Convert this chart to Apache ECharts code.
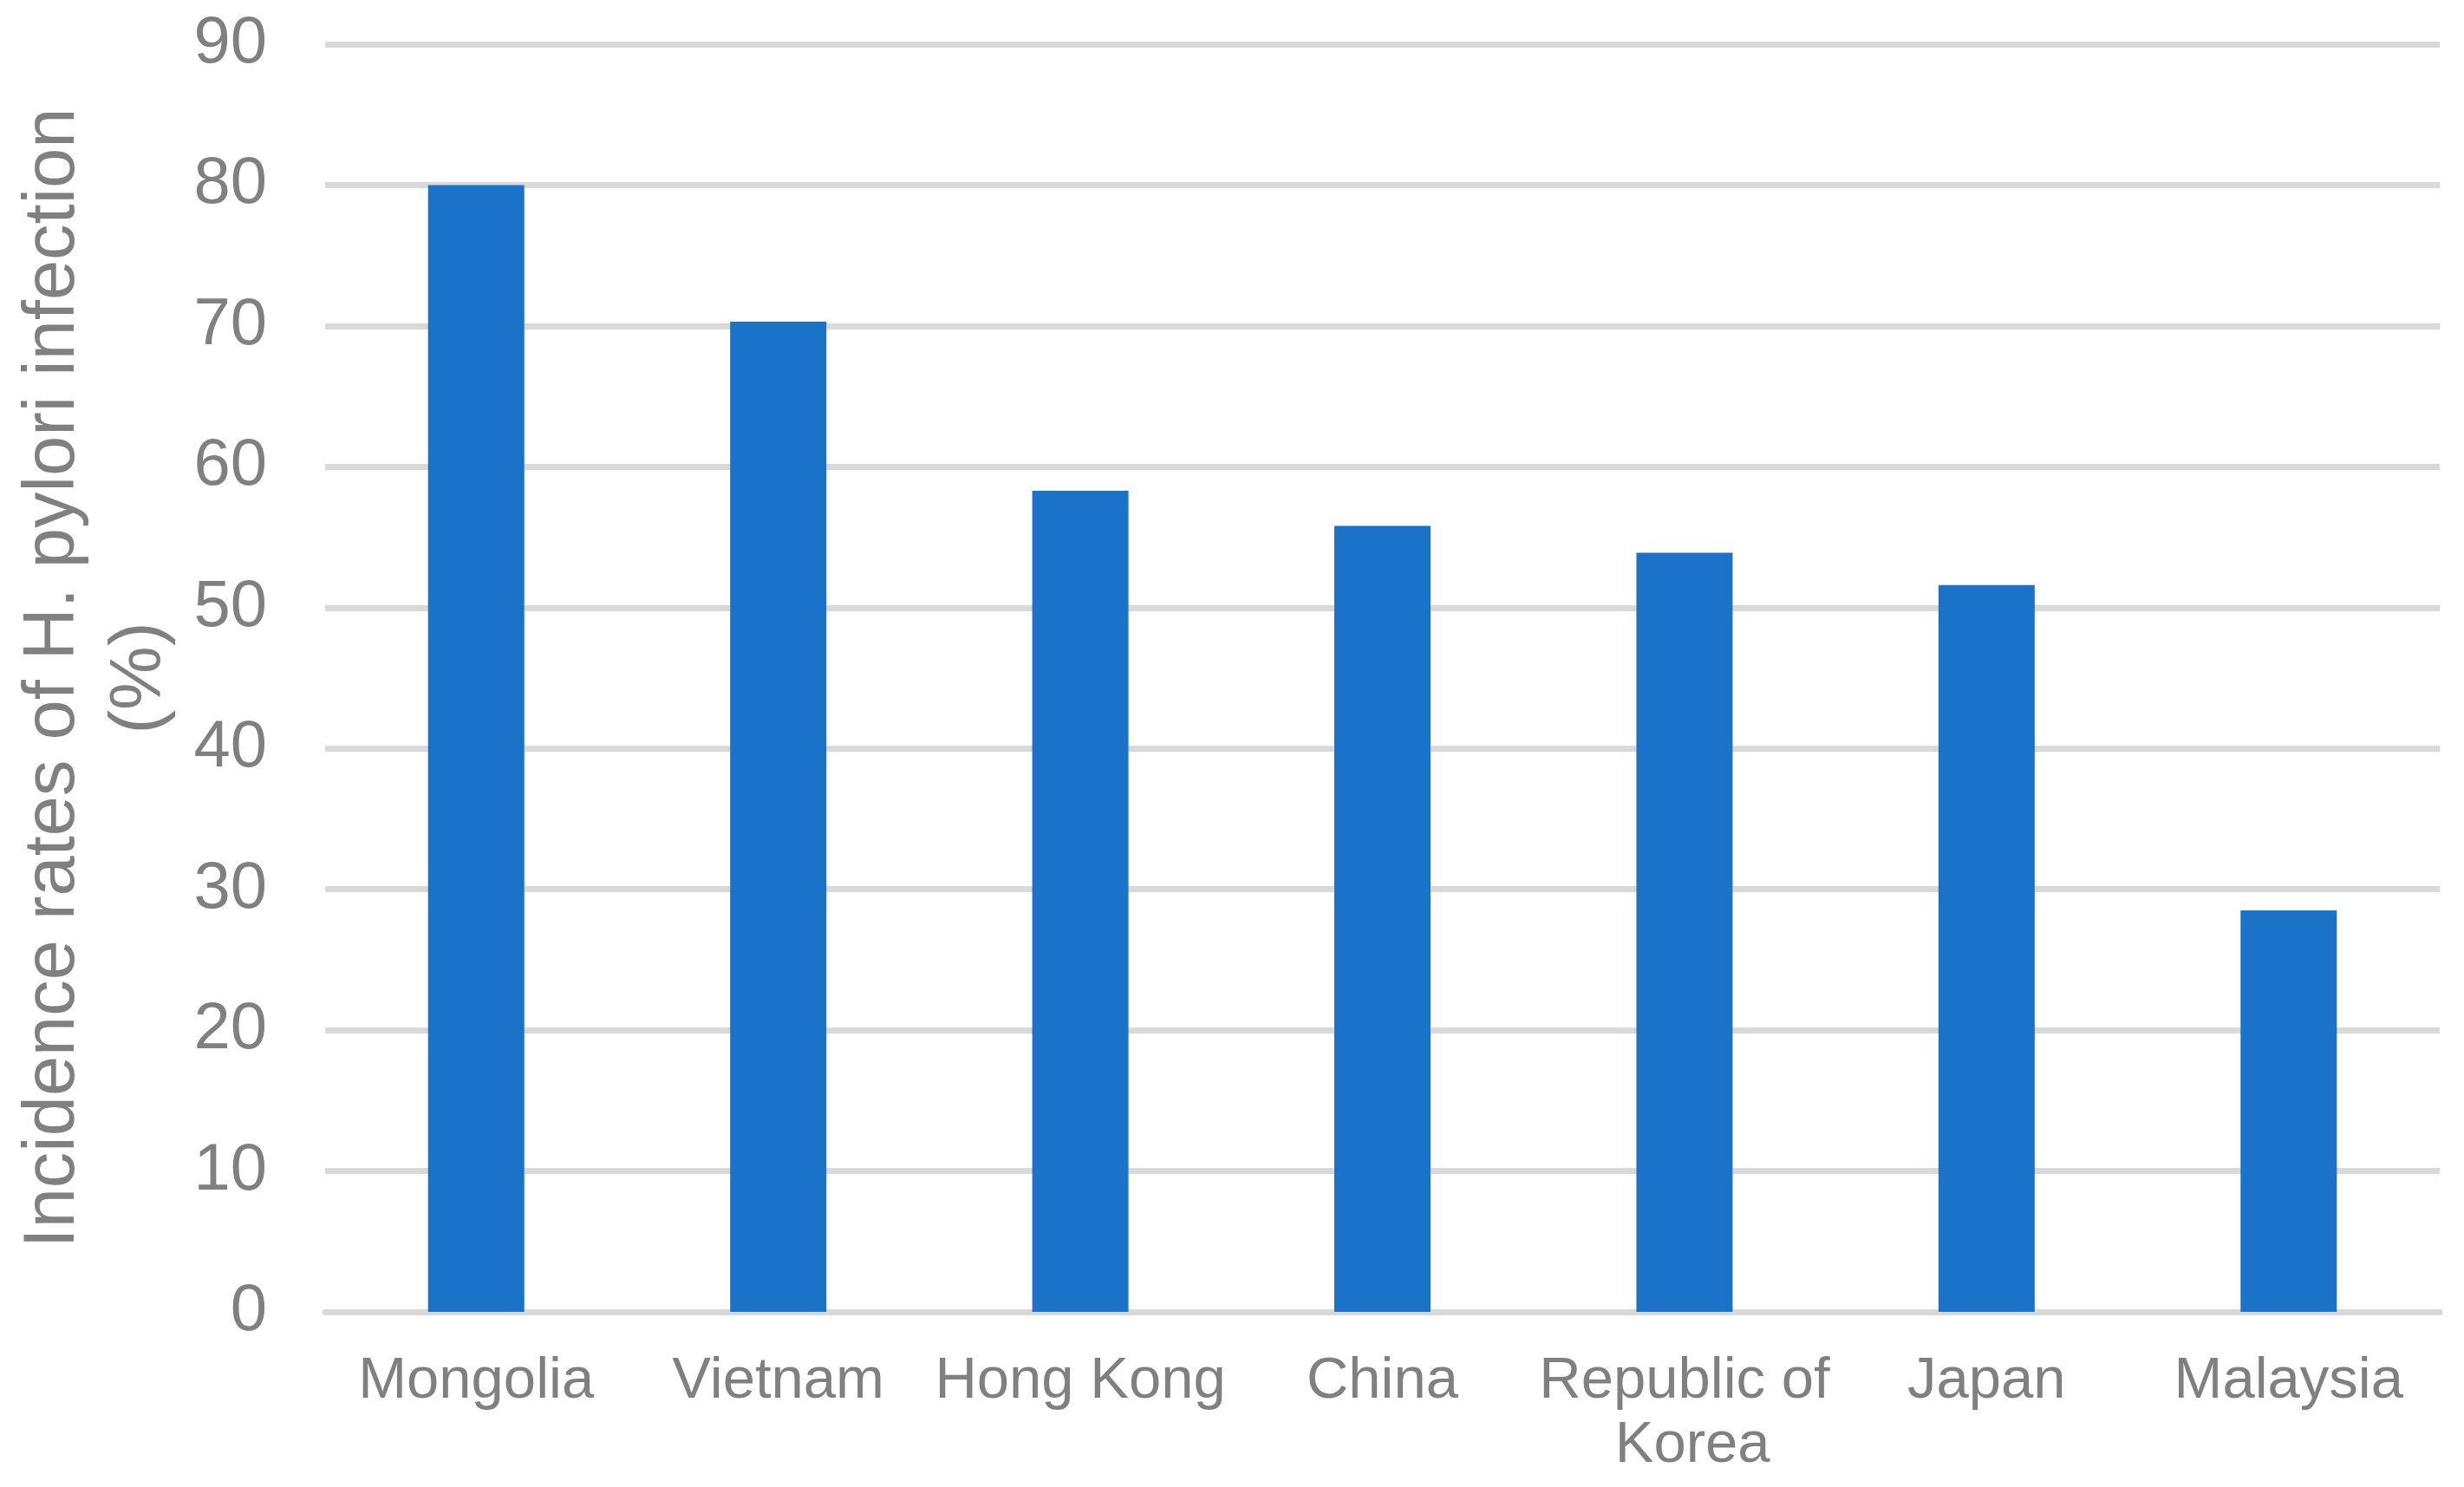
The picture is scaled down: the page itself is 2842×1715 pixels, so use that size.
<!DOCTYPE html>
<html>
<head>
<meta charset="utf-8">
<script src="https://cdn.jsdelivr.net/npm/echarts@6/dist/echarts.min.js"></script>
<style>
  html, body { margin:0; padding:0; background:#fff; }
  #chart { width:2842px; height:1715px; }
</style>
</head>
<body>
<div id="chart"></div>
<script>
const countries = ['Mongolia', 'Vietnam', 'Hong Kong', 'China', 'Republic of Korea', 'Japan', 'Malaysia'];
const rates = [80.0, 70.3, 58.3, 55.8, 53.9, 51.6, 28.5];
const yTicks = { min: 0, max: 90, step: 10 };
const yTitle = 'Incidence rates of H. pylori infection\n(%)';

const FONT = '"Liberation Sans", Arial, sans-serif';
const GREY = '#808080';
const GRID = '#D9D9D9';

const chart = echarts.init(document.getElementById('chart'));
chart.setOption({
  backgroundColor: '#fff',
  animation: false,
  grid: { left: 375, right: 28, top: 51, bottom: 202, outerBoundsMode: 'none', containLabel: false },
  xAxis: {
    type: 'category',
    data: countries,
    axisTick: { show: false },
    axisLine: { lineStyle: { color: GRID, width: 7 } },
    axisLabel: {
      color: GREY, fontFamily: FONT, fontSize: 67, margin: 44,
      lineHeight: 74, width: 345, overflow: 'break', interval: 0
    }
  },
  yAxis: {
    type: 'value',
    min: yTicks.min, max: yTicks.max, interval: yTicks.step,
    name: yTitle,
    nameLocation: 'middle',
    nameRotate: 90,
    nameGap: 163,
    nameTextStyle: { color: GREY, fontFamily: FONT, fontSize: 83, lineHeight: 100 },
    axisLine: { show: false },
    axisTick: { show: false },
    axisLabel: { color: GREY, fontFamily: FONT, fontSize: 76, margin: 67 },
    splitLine: { lineStyle: { color: GRID, width: 7 } }
  },
  series: [{
    type: 'bar',
    data: rates,
    barWidth: 111,
    itemStyle: { color: '#1A73C8' }
  }]
});
window.addEventListener('resize', () => chart.resize());
</script>
</body>
</html>
